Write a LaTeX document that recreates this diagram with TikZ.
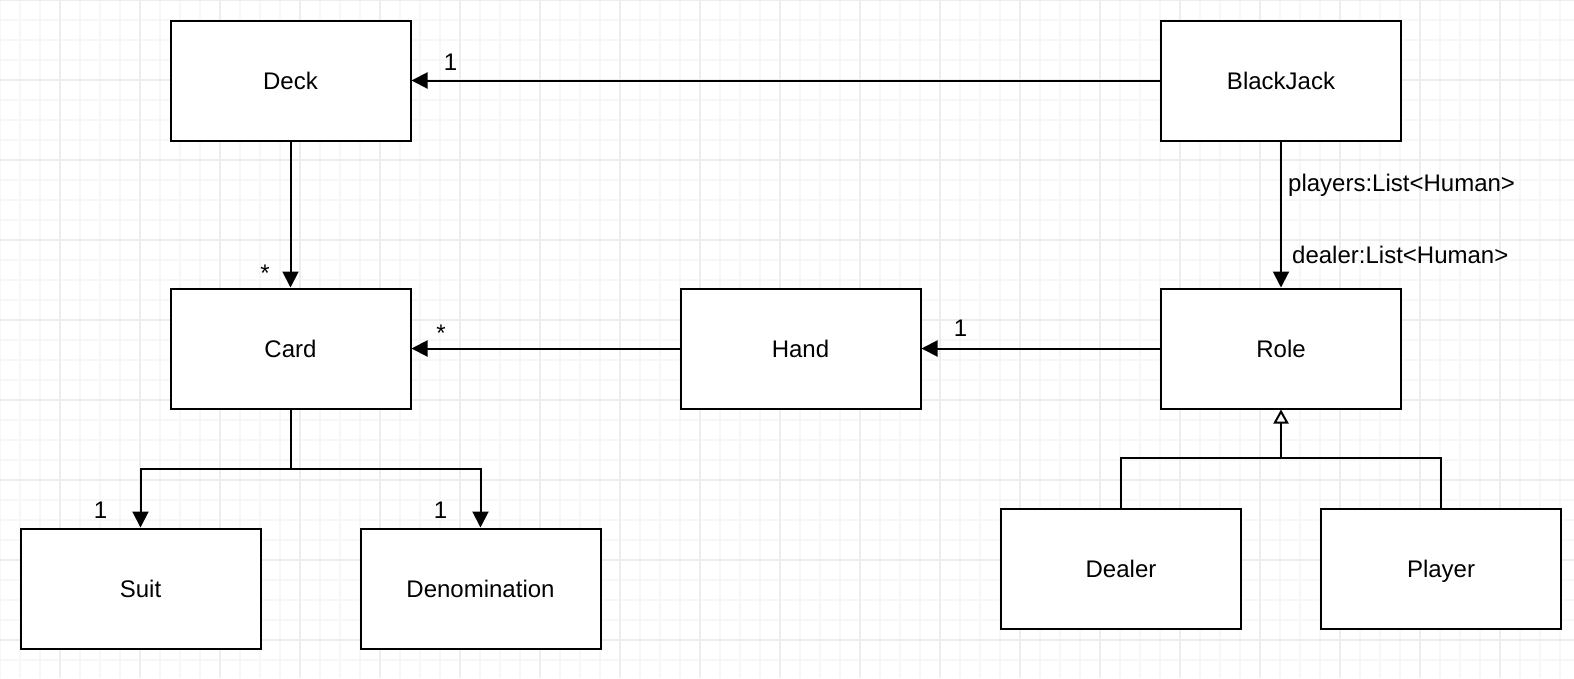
\documentclass[tikz,border=0pt]{standalone}
\usepackage{fontspec}
\setmainfont{Liberation Sans}
\usetikzlibrary{arrows.meta,calc}
\begin{document}
\begin{tikzpicture}[x=1pt,y=-1pt,
  cls/.style={draw=black,fill=white,line width=2pt,minimum width=240pt,minimum height=120pt,inner sep=0pt,text height=17pt,text depth=0pt,font=\fontsize{24}{29}\selectfont},
  assoc/.style={line width=2pt,-{Triangle[length=16pt,width=16pt]}},
  gen/.style={line width=2pt,-{Triangle[open,length=14pt,width=15pt,fill=white]}},
  lbl/.style={inner sep=0pt,font=\fontsize{24}{29}\selectfont},
  gridminor/.style={draw=black!3,line width=1.5pt},
  gridmajor/.style={draw=black!7,line width=1.5pt}]
\useasboundingbox (0,0) rectangle (1574,678);
\fill[white] (0,0) rectangle (1574,678);
% grid
\foreach \i in {0,20,...,1580} {\draw[gridminor] (\i,0) -- (\i,678);}
\foreach \j in {0,20,...,680} {\draw[gridminor] (0,\j) -- (1574,\j);}
\foreach \i in {60,140,...,1580} {\draw[gridmajor] (\i,0) -- (\i,678);}
\foreach \j in {0,80,...,680} {\draw[gridmajor] (0,\j) -- (1574,\j);}
% classes
\node[cls] (deck) at (290.5,80.5) {Deck};
\node[cls] (bj) at (1281,80.5) {BlackJack};
\node[cls] (card) at (290.5,348.5) {Card};
\node[cls] (hand) at (800.5,348.5) {Hand};
\node[cls] (role) at (1281,348.5) {Role};
\node[cls] (suit) at (140.5,588.5) {Suit};
\node[cls] (denom) at (480.5,588.5) {Denomination};
\node[cls] (dealer) at (1121,568.5) {Dealer};
\node[cls] (player) at (1441,568.5) {Player};
% connectors
\draw[assoc] (bj) -- (deck);
\draw[assoc] (deck) -- (card);
\draw[assoc] (hand) -- (card);
\draw[assoc] (role) -- (hand);
\draw[assoc] (bj) -- (role);
\draw[assoc] (card.south) |- ($(card.south)!0.5!(suit.north)$) -| (suit.north);
\draw[assoc] (card.south) |- ($(card.south)!0.5!(denom.north)$) -| (denom.north);
\draw[gen] (dealer.north) |- ($(dealer.north)!0.5!(player.north)+(0,-50)$) -- (role.south);
\draw[line width=2pt] (player.north) |- ($(dealer.north)!0.5!(player.north)+(0,-50)$);
% labels
\node[lbl] (l1) at (450.5,62) {1};
\node[lbl] (l2) at (265,273) {*};
\node[lbl] (l3) at (441,333) {*};
\node[lbl] (l4) at (960.5,328) {1};
\node[lbl] (l5) at (100.5,510) {1};
\node[lbl] (l6) at (440.5,510) {1};
\node[lbl,anchor=base west] (l7) at (1288,191.5) {players:List<Human>};
\node[lbl,anchor=base west] (l8) at (1292,263.5) {dealer:List<Human>};
\end{tikzpicture}
\end{document}
